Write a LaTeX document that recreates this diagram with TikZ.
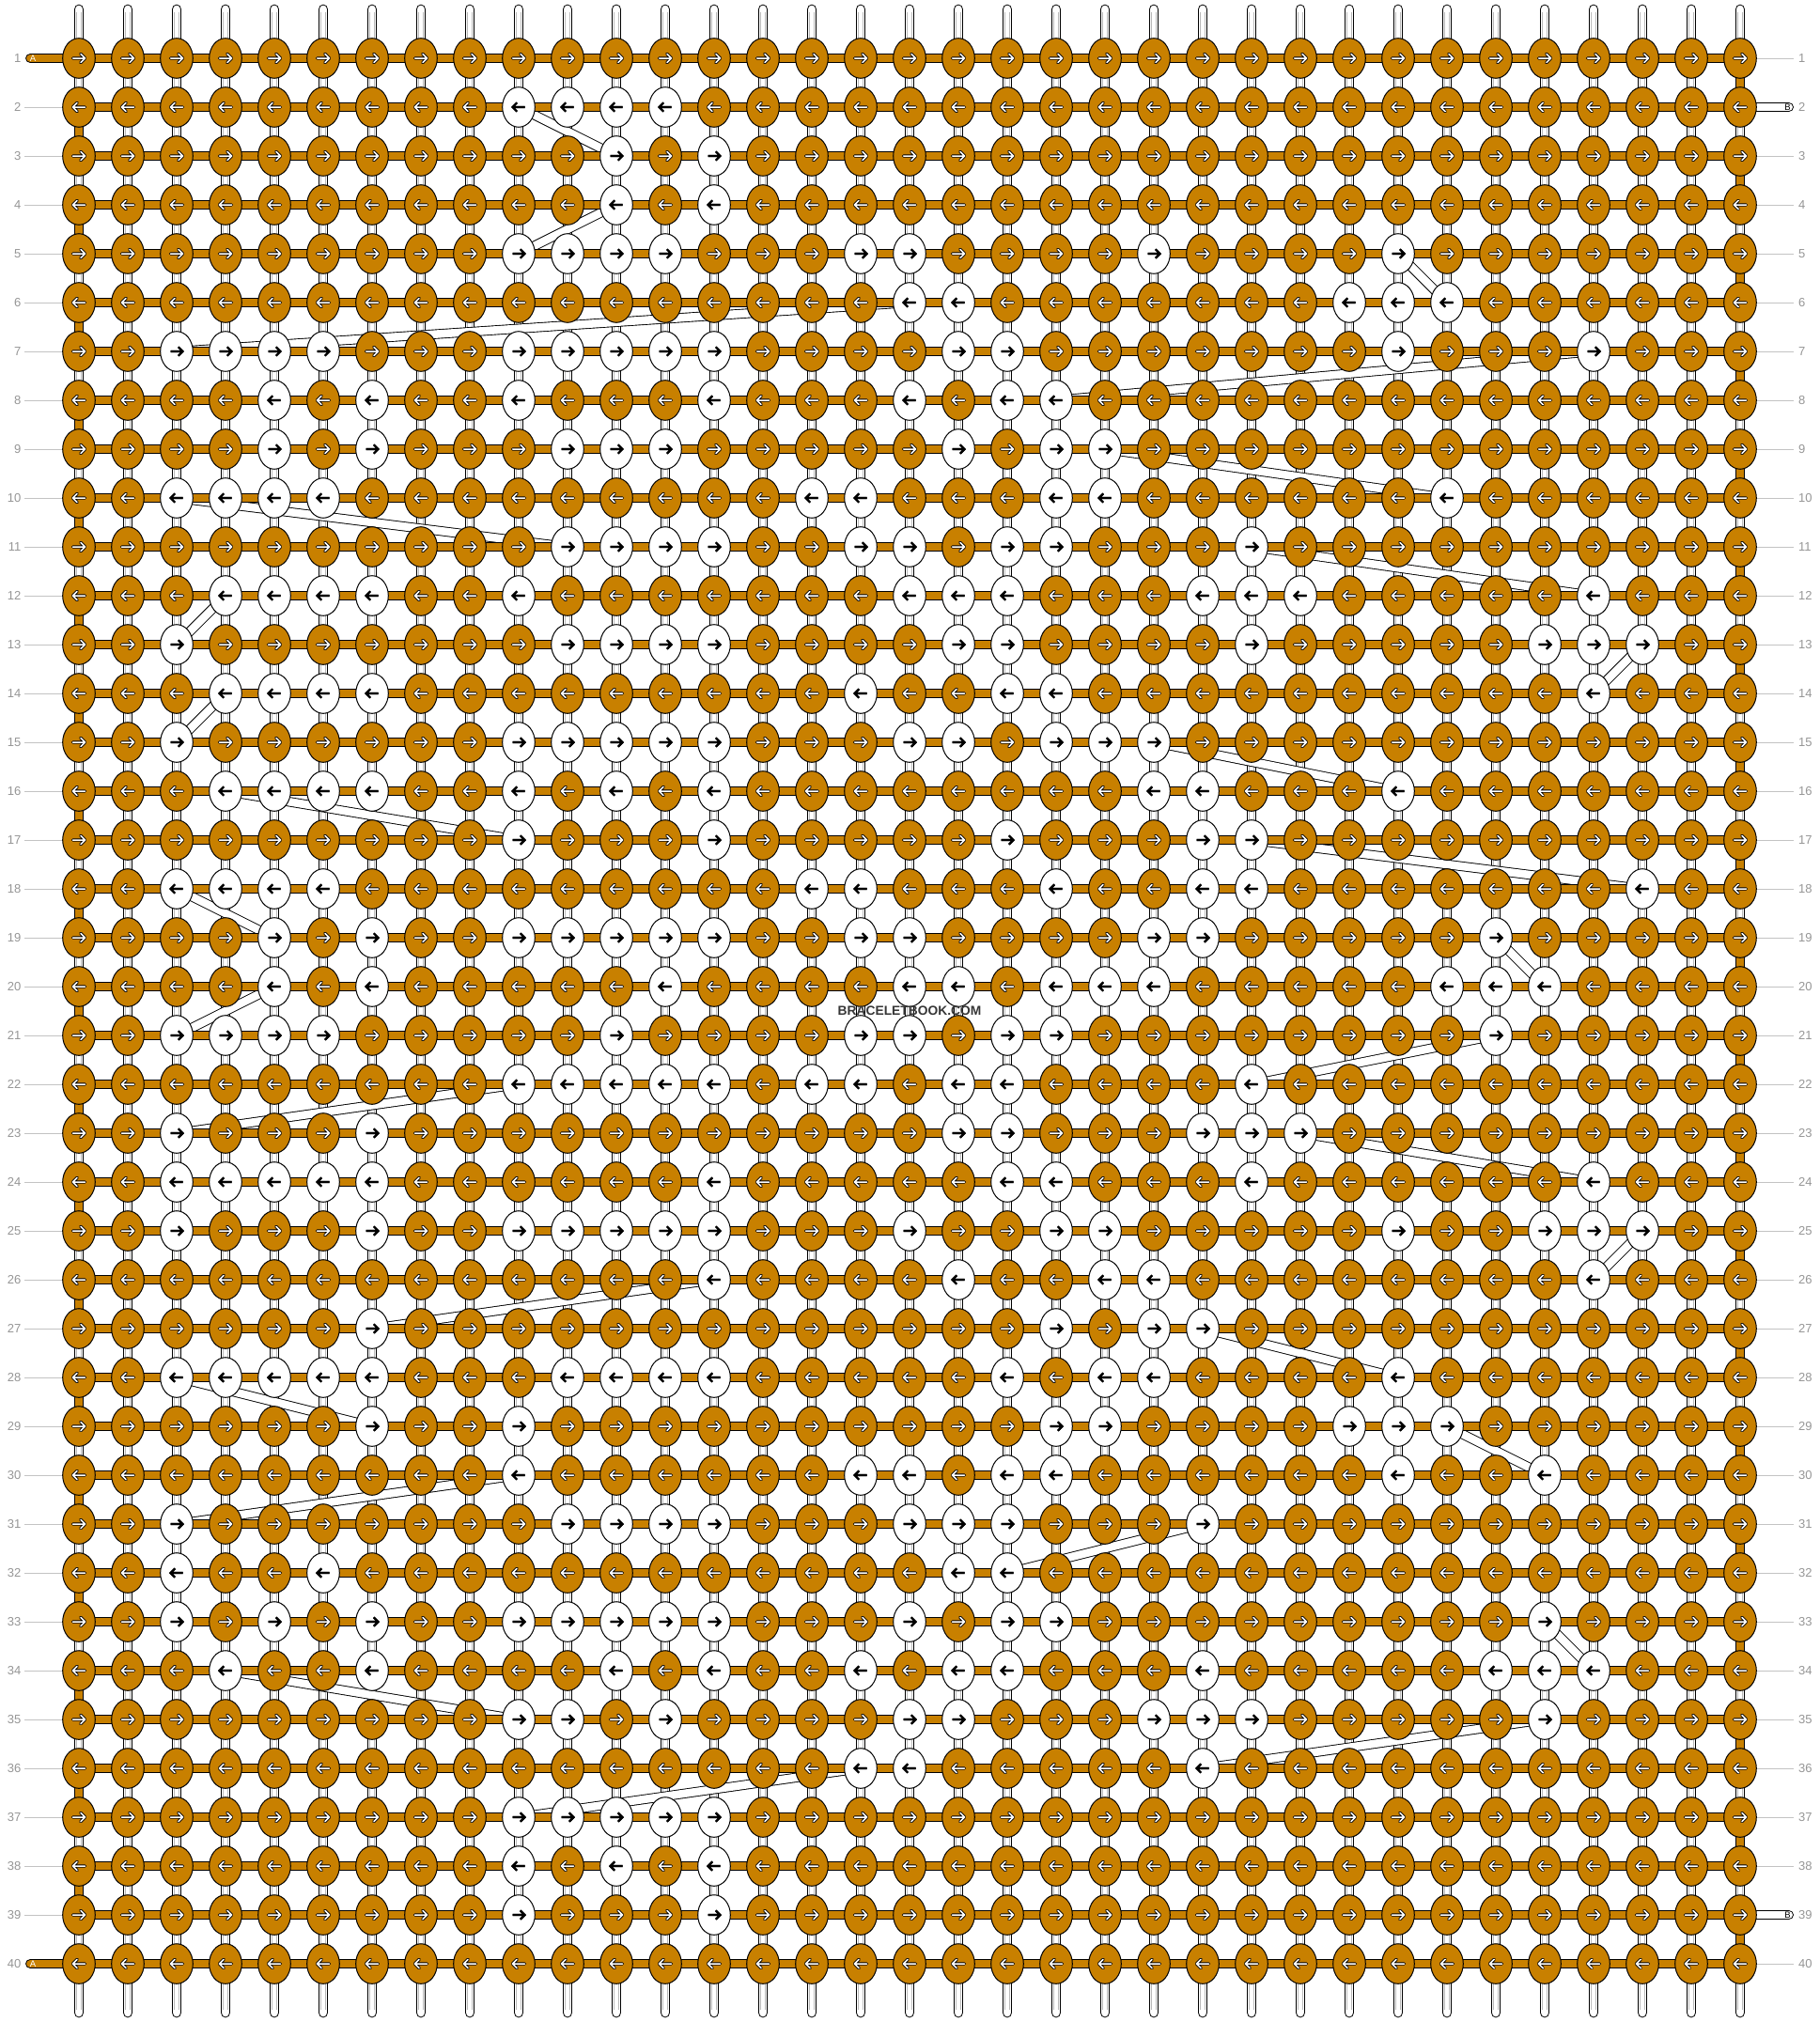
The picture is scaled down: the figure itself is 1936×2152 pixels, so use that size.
\documentclass[tikz,border=0pt]{standalone}
\usepackage{fontspec}
\setmainfont{Liberation Sans}
\usetikzlibrary{shapes.geometric}
\definecolor{oc}{RGB}{200,128,0}
\definecolor{labgray}{RGB}{150,150,150}
\definecolor{guidegray}{RGB}{195,195,195}
\definecolor{ingray}{RGB}{185,185,185}
\definecolor{bbtext}{RGB}{55,55,55}
\pgfdeclarelayer{bg}\pgfdeclarelayer{diag}\pgfdeclarelayer{bars}\pgfdeclarelayer{top}
\pgfsetlayers{bg,diag,bars,main,top}
\newcommand\whites[2]{\foreach \cc in {#2}{\expandafter\xdef\csname wk-#1-\cc\endcsname{1}}}
\whites{2}{10,11,12,13}
\whites{3}{12,14}
\whites{4}{12,14}
\whites{5}{10,11,12,13,17,18,23,28}
\whites{6}{18,19,27,28,29}
\whites{7}{3,4,5,6,10,11,12,13,14,19,20,28,32}
\whites{8}{5,7,10,14,18,20,21}
\whites{9}{5,7,11,12,13,19,21,22}
\whites{10}{3,4,5,6,16,17,21,22,29}
\whites{11}{11,12,13,14,17,18,20,21,25}
\whites{12}{4,5,6,7,10,18,19,20,24,25,26,32}
\whites{13}{3,11,12,13,14,19,20,25,31,32,33}
\whites{14}{4,5,6,7,17,20,21,32}
\whites{15}{3,10,11,12,13,14,18,19,21,22,23}
\whites{16}{4,5,6,7,10,12,14,23,24,28}
\whites{17}{10,14,20,24,25}
\whites{18}{3,4,5,6,16,17,21,24,25,33}
\whites{19}{5,7,10,11,12,13,14,17,18,23,24,30}
\whites{20}{5,7,13,18,19,21,22,23,29,30,31}
\whites{21}{3,4,5,6,12,17,18,20,21,30}
\whites{22}{10,11,12,13,14,16,17,19,20,25}
\whites{23}{3,7,19,20,24,25,26}
\whites{24}{3,4,5,6,7,14,20,21,25,32}
\whites{25}{3,7,10,11,12,13,14,18,21,22,28,31,32,33}
\whites{26}{14,19,22,23,32}
\whites{27}{7,21,23,24}
\whites{28}{3,4,5,6,7,11,12,13,14,20,22,23,28}
\whites{29}{7,10,21,22,27,28,29}
\whites{30}{10,17,18,20,21,28,31}
\whites{31}{3,11,12,13,14,18,19,20,24}
\whites{32}{3,6,19,20}
\whites{33}{3,5,7,10,11,12,13,14,18,20,21,31}
\whites{34}{4,7,12,14,17,19,20,24,30,31,32}
\whites{35}{10,11,13,18,19,23,24,25,31}
\whites{36}{17,18,24}
\whites{37}{10,11,12,13,14}
\whites{38}{10,12,14}
\whites{39}{10,14}
\begin{document}
\begin{tikzpicture}[x=1pt,y=-1pt,
  ok/.style={ellipse,draw=black,line width=1,fill=oc,minimum width=34.6,minimum height=42.6,inner sep=0},
  wk/.style={ellipse,draw=black,line width=1,fill=white,minimum width=34.6,minimum height=42.6,inner sep=0},
  oarrb/.style={draw=black,line width=3.3,line cap=round,line join=round},
  oarrw/.style={draw=white,line width=1.5,line cap=round,line join=round},
  warr/.style={draw=black,line width=2.1,line cap=butt,line join=miter},
  hbar/.style={draw=black,line width=1,double=oc,double distance=8.7},
  wstr/.style={draw=black,line width=1,double=white,double distance=8.7},
  vstr/.style={draw=black,line width=1,double=white,double distance=8.7,line cap=round},
  vin/.style={draw=ingray,line width=0.8},
  dstr/.style={draw=black,line width=0.9,double=white,double distance=8.5},
  guide/.style={draw=guidegray,line width=1},
  lab/.style={text=labgray,font=\fontsize{13}{15}\selectfont,inner sep=0}]
\useasboundingbox (0,0) rectangle (1936,2152);
\begin{pgfonlayer}{bg}
\fill[white] (0,0) rectangle (1936,2152);
\end{pgfonlayer}
% knots and arrows
\foreach \rr in {1,...,40}{
  \ifodd\rr\relax\def\dir{1}\else\def\dir{-1}\fi
  \foreach \cl in {1,...,35}{
    \ifcsname wk-\rr-\cl\endcsname\def\ks{wk}\def\as{warr}\def\ai{warr}\else\def\ks{ok}\def\as{oarrb}\def\ai{oarrw}\fi
    \node[\ks] (k-\rr-\cl) at ({32+52*\cl},{10+52*\rr}) {};
    \draw[\as,shift={(k-\rr-\cl)},xscale=\dir] (-6.5,0)--(6.3,0) (1.8,-4.7)--(6.5,0)--(1.8,4.7);
    \draw[\ai,shift={(k-\rr-\cl)},xscale=\dir] (-6.5,0)--(6.3,0) (1.8,-4.7)--(6.5,0)--(1.8,4.7);
  }
}
% vertical strings, guide lines, labels
\begin{pgfonlayer}{bg}
\foreach \cl in {1,...,35}{
  \coordinate (vt-\cl) at ({32+52*\cl},10);
  \coordinate (vb-\cl) at ({32+52*\cl},2142);
  \draw[vstr] (vt-\cl) -- (vb-\cl);
  \draw[vin] ({32+52*\cl-2.3},13) -- ({32+52*\cl-2.3},2139);
  \draw[vin] ({32+52*\cl+2.3},13) -- ({32+52*\cl+2.3},2139);
}
\foreach \rr in {2,...,39}{
  \coordinate (gl-\rr) at (26,{10+52*\rr});
  \draw[guide] (gl-\rr) -- (k-\rr-1.center);
}
\foreach \rr in {1,3,4,5,6,7,8,9,10,11,12,13,14,15,16,17,18,19,20,21,22,23,24,25,26,27,28,29,30,31,32,33,34,35,36,37,38,40}{
  \coordinate (gr-\rr) at (1909,{10+52*\rr});
  \draw[guide] (k-\rr-35.center) -- (gr-\rr);
}
\end{pgfonlayer}
\foreach \rr in {1,...,40}{
  \node[lab,anchor=east] (ll-\rr) at (22.5,{10+52*\rr}) {\rr};
  \node[lab,anchor=west] (rl-\rr) at (1914,{10+52*\rr}) {\rr};
}
% diagonal strings
\begin{pgfonlayer}{diag}
\foreach \ra/\ca/\rb/\cb in {2/10/3/12,5/10/4/12,7/3/6/18,10/3/11/11,12/4/13/3,5/28/6/29,8/21/7/32,
  9/22/10/29,11/25/12/32,13/33/14/32,14/4/15/3,16/4/17/10,18/3/19/5,21/3/20/5,23/3/22/10,
  27/7/26/14,15/23/16/28,17/25/18/33,19/30/20/31,21/30/22/25,23/26/24/32,25/33/26/32,
  27/24/28/28,28/3/29/7,31/3/30/10,29/29/30/31,32/20/31/24,33/31/34/32,34/4/35/10,
  36/24/35/31,37/10/36/17}{
  \draw[dstr] (k-\ra-\ca.center) -- (k-\rb-\cb.center);
}
\end{pgfonlayer}
% horizontal bars and edge turns
\begin{pgfonlayer}{bars}
\foreach \rr in {1,...,40}{
  \draw[hbar] (k-\rr-1.center) -- (k-\rr-35.center);
}
\foreach \rr in {2,4,...,38}{
  \pgfmathtruncatemacro\nx{\rr+1}
  \draw[hbar] (k-\rr-1.center) -- (k-\nx-1.center);
}
\foreach \rr in {1,3,...,39}{
  \pgfmathtruncatemacro\nx{\rr+1}
  \draw[hbar] (k-\rr-35.center) -- (k-\nx-35.center);
}
\coordinate (A1) at (32.4,62);
\coordinate (A40) at (32.4,2090);
\draw[hbar,line cap=round] (A1) -- (k-1-1.center);
\draw[hbar,line cap=round] (A40) -- (k-40-1.center);
\coordinate (B2) at (1903.6,114);
\coordinate (B39) at (1903.6,2038);
\draw[wstr,line cap=round] (k-2-35.center) -- (B2);
\draw[wstr,line cap=round] (k-39-35.center) -- (B39);
\end{pgfonlayer}
\node[text=white,font=\fontsize{9.5}{11}\selectfont,inner sep=0] (la1) at (35,62) {A};
\node[text=white,font=\fontsize{9.5}{11}\selectfont,inner sep=0] (la40) at (35,2090) {A};
\node[text=black,font=\fontsize{9.5}{11}\selectfont,inner sep=0] (lb2) at (1902.5,114) {B};
\node[text=black,font=\fontsize{9.5}{11}\selectfont,inner sep=0] (lb39) at (1902.5,2038) {B};
\begin{pgfonlayer}{top}
\node[text=bbtext,font=\fontsize{13.8}{16}\selectfont\bfseries,inner sep=0] (bb) at (968,1076) {BRACELETBOOK.COM};
\end{pgfonlayer}
\end{tikzpicture}
\end{document}
